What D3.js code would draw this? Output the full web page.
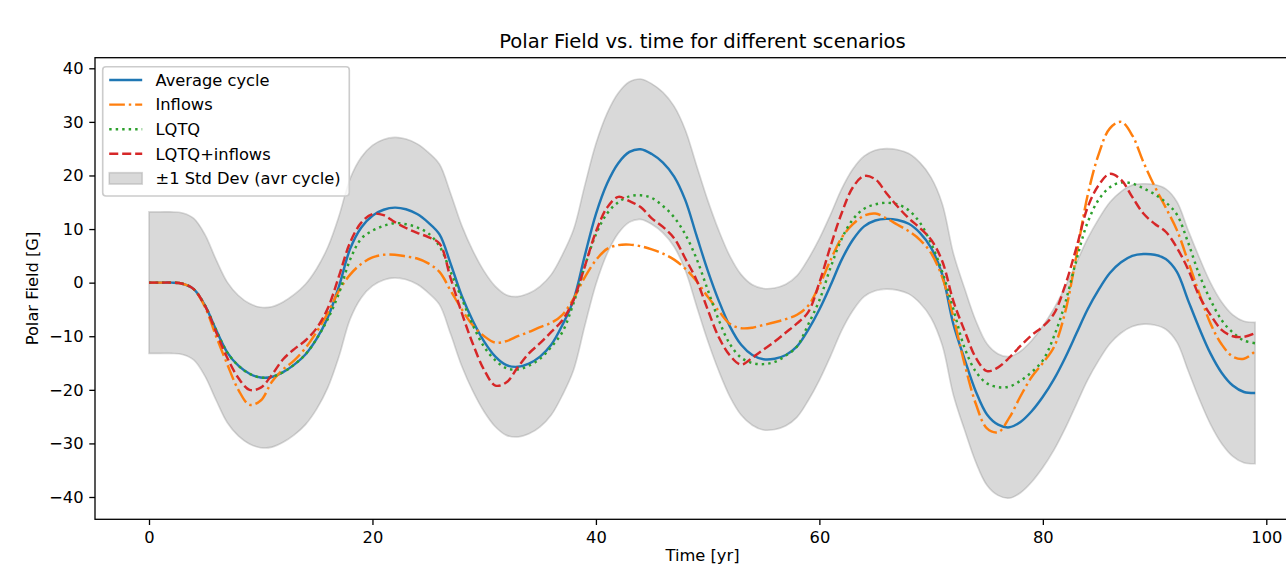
<!DOCTYPE html>
<html>
<head>
<meta charset="utf-8">
<script src="https://cdn.jsdelivr.net/npm/d3@7"></script>
<style>
  body { margin: 0; background: #fff; }
  svg { display: block; font-family: "DejaVu Sans", sans-serif; }
</style>
</head>
<body>
<div class="canvas"></div>
<script>
// values, one sample per year
const years = [0,1,2,3,4,5,6,7,8,9,10,11,12,13,14,15,16,17,18,19,20,21,22,23,24,25,26,27,28,29,
  30,31,32,33,34,35,36,37,38,39,40,41,42,43,44,45,46,47,48,49,50,51,52,53,54,55,56,57,58,59,
  60,61,62,63,64,65,66,67,68,69,70,71,72,73,74,75,76,77,78,79,80,81,82,83,84,85,86,87,88,89,
  90,91,92,93,94,95,96,97,98,99];

const avgCycle = [0,0,0,-0.2,-1.2,-4.2,-8.8,-13,-15.5,-17,-17.7,-17.6,-16.7,-15.3,-13.4,-10.5,-6.5,-0.7,6.3,10.3,
  12.5,13.6,14.0,13.7,12.8,11.2,9,3.5,-2.5,-7.2,-11,-13.8,-15.4,-15.7,-15.1,-13.8,-11.6,-7.9,-3.2,5,
  12.8,18.5,22.3,24.4,24.9,24,22.4,19.8,15.4,8.8,2.3,-3.4,-8.2,-11.6,-13.5,-14.3,-14.2,-13.5,-11.9,-8.8,
  -5,-0.5,4.3,8,10.5,11.6,11.9,11.7,11,9.3,6.5,1.5,-7.8,-14.3,-20.3,-24.6,-26.5,-27,-26,-24,
  -21.3,-18,-14,-9.5,-5,-1.3,1.8,3.8,5,5.35,5.2,4.4,2,-3.3,-8.5,-13.2,-16.8,-19.2,-20.4,-20.6];

const inflows = [0,0,0,-0.2,-1.2,-4.5,-10,-15.2,-20,-22.8,-22,-18.5,-16.2,-14.5,-12.2,-9.2,-5.7,-1.5,1.5,3.5,
  4.7,5.2,5.2,4.9,4.5,3.6,2,-1.5,-5,-8,-10,-11.2,-10.9,-10,-9.2,-8.3,-7.5,-6,-3,1,
  4.2,6.3,7,7.1,6.8,6.2,5.4,4.3,2.6,0.3,-2.6,-5.3,-7.7,-8.5,-8.4,-7.9,-7.4,-6.8,-6,-4.3,
  -0.5,4.2,8.4,10.9,12.5,12.9,12,10.8,9.6,8,5.5,1,-6.5,-15.2,-22.6,-27.2,-27.9,-25.2,-21.2,-17.6,
  -15,-12,-5.5,5,16.2,24,28.8,30,27.5,22.5,18,14,9.8,4,-2,-7.6,-11.5,-13.8,-14.2,-12.8];

const lqtq = [0,0,0,-0.2,-1.2,-4.2,-8.8,-13,-15.5,-17,-17.7,-17.6,-16.7,-15.3,-13.4,-10.5,-6.8,-2,4.3,8.2,
  9.7,10.6,11.1,10.9,10.3,9.2,6.8,2,-3,-8,-12,-14.5,-16,-16.2,-15.5,-14.2,-12,-9.2,-3.8,3,
  9,12.9,15,16.1,16.3,15.8,14.3,12.2,9,4.5,-1.3,-7,-11.5,-14,-15,-15.2,-14.8,-13.6,-11.9,-7.8,
  -3.3,2.8,8.2,11.8,13.8,14.6,14.9,14.6,13.5,11.2,7.3,2,-5,-12.2,-16.6,-18.8,-19.5,-19.4,-18.3,-16.7,
  -14.5,-10,-3.8,4.2,11.2,15.5,17.8,18.7,18.5,17.6,16.5,15,12.7,7.5,1.5,-3.2,-7,-9.3,-10.8,-11.3];

const lqtqInflows = [0,0,0,-0.2,-1.2,-4.3,-9.2,-14,-17.8,-20,-19.6,-17.2,-14.3,-12.4,-10.8,-8.5,-4.8,1.2,7.5,11.2,
  12.8,12.6,11.3,10.2,9.3,8.5,7.3,0.8,-5.7,-11.5,-16.3,-19.2,-18.6,-15.8,-13.2,-11.3,-9.2,-7,-3.2,3,
  9.5,14,16,15.2,14.1,12,10.4,8.3,4.5,0.5,-5,-10.2,-13.6,-15.3,-14,-12.5,-11,-9.3,-7.6,-5.5,
  0,6.8,13,17.8,19.9,19.3,16.7,14.2,12,10.2,8,4,-3.5,-9,-14,-16.5,-15.8,-14,-11.8,-9.8,
  -8.2,-5.8,-0.5,6.5,14,18.2,20.3,19.2,16,12.9,11,9.5,6.5,2.5,-2.5,-6,-8.8,-10,-10.1,-9.4];

// half width of the grey band around the average cycle
const avgStd = [13.2,13.2,13.2,13.2,13.2,13.2,13.1,13.1,13.1,13.1,13.1,13.1,13.1,13.1,13.1,13.1,13.1,13.1,13.1,13.1,
  13.1,13.1,13.1,13.1,13.1,13.1,13.1,13.1,13.1,13.1,13.1,13.1,13.1,13.1,13.1,13.1,13.1,13.1,13.1,13.1,
  13.1,13.1,13.1,13.1,13.1,13.1,13.1,13.1,13.1,13.1,13.1,13.1,13.1,13.1,13.1,13.2,13.2,13.2,13.2,13.2,
  13.2,13.2,13.2,13.2,13.1,13.1,13.1,13.1,13.1,13.1,13.1,13.2,13.2,13.2,13.2,13.2,13.2,13.2,13.2,13.2,
  13.2,13.2,13.2,13.2,13.2,13.2,13.2,13.2,13.2,13.1,13.1,13.1,13.1,13.1,13.2,13.2,13.2,13.2,13.2,13.2];

const xTicks = [0, 20, 40, 60, 80, 100];
const yTicks = [-40, -30, -20, -10, 0, 10, 20, 30, 40];
const seriesNames = ['Average cycle', 'Inflows', 'LQTQ', 'LQTQ+inflows'];
const bandName = '\u00b11 Std Dev (avr cycle)';

// figure geometry (matplotlib-like, ~118 dpi)
const W = 1286, H = 566;
const box = {left: 95, right: 1310, top: 57.7, bottom: 519.3};
const pt = 1.633;          // px per point
const fs = 16.3;           // 10pt text

const svg = d3.select('.canvas')
  .append('svg')
  .attr('width', W)
  .attr('height', H);

const x = d3.scaleLinear().domain([0, 100]).range([149, 1266.3]);
const y = d3.scaleLinear().domain([-40, 40]).range([497, 68.3]);

// series styles: tab10 colours, matplotlib dash patterns scaled by linewidth
const lw = 1.5 * pt;
const styles = [
  {color: '#1f77b4', dash: null},
  {color: '#ff7f0e', dash: [6.4, 1.6, 1, 1.6].map(d => d * lw)},
  {color: '#2ca02c', dash: [1, 1.65].map(d => d * lw)},
  {color: '#d62728', dash: [3.7, 1.6].map(d => d * lw)}
];
const seriesValues = [avgCycle, inflows, lqtq, lqtqInflows];

// std band
const band = d3.area()
  .x((d, i) => x(years[i]))
  .y0((d, i) => y(avgCycle[i] - avgStd[i]))
  .y1((d, i) => y(avgCycle[i] + avgStd[i]))
  .curve(d3.curveCatmullRom.alpha(0.5));

svg.append('path')
  .attr('d', band(years))
  .attr('fill', 'gray')
  .attr('fill-opacity', 0.3)
  .attr('stroke', 'gray')
  .attr('stroke-opacity', 0.3)
  .attr('stroke-width', pt);

// lines
const line = d3.line()
  .x((d, i) => x(years[i]))
  .y(d => y(d))
  .curve(d3.curveCatmullRom.alpha(0.5));

seriesValues.forEach((vals, k) => {
  svg.append('path')
    .attr('d', line(vals))
    .attr('fill', 'none')
    .attr('stroke', styles[k].color)
    .attr('stroke-width', lw)
    .attr('stroke-dasharray', styles[k].dash ? styles[k].dash.join(',') : null)
    .attr('stroke-linecap', 'butt');
});

// axes
const tickLen = 3.5 * pt;
const xAxis = d3.axisBottom(x).tickValues(xTicks).tickSize(tickLen).tickPadding(3.5 * pt + 1).tickSizeOuter(0);
const yAxis = d3.axisLeft(y).tickValues(yTicks).tickSize(tickLen).tickPadding(3.5 * pt).tickSizeOuter(0);

const xAxisGroup = svg.append('g').attr('transform', `translate(0, ${box.bottom})`).call(xAxis);
const yAxisGroup = svg.append('g').attr('transform', `translate(${box.left}, 0)`).call(yAxis);

[xAxisGroup, yAxisGroup].forEach(g => {
  g.select('.domain').remove();
  g.selectAll('line').attr('stroke', '#000').attr('stroke-width', 0.8 * pt);
  g.selectAll('text').attr('fill', '#000').style('font-size', fs + 'px').style('font-family', '"DejaVu Sans"');
});

// spines
svg.append('rect')
  .attr('x', box.left).attr('y', box.top)
  .attr('width', box.right - box.left).attr('height', box.bottom - box.top)
  .attr('fill', 'none').attr('stroke', '#000').attr('stroke-width', 0.8 * pt);

// titles
const cx = (box.left + box.right) / 2;
svg.append('text')
  .attr('x', cx).attr('y', 48)
  .attr('text-anchor', 'middle')
  .style('font-size', (12 * pt) + 'px')
  .text('Polar Field vs. time for different scenarios');

svg.append('text')
  .attr('x', cx).attr('y', 561)
  .attr('text-anchor', 'middle')
  .style('font-size', fs + 'px')
  .text('Time [yr]');

svg.append('text')
  .attr('transform', `translate(38, ${(box.top + box.bottom) / 2}) rotate(-90)`)
  .attr('text-anchor', 'middle')
  .style('font-size', fs + 'px')
  .text('Polar Field [G]');

// legend
const leg = svg.append('g');
leg.append('rect')
  .attr('x', 102.7).attr('y', 66.7)
  .attr('width', 246.6).attr('height', 129.3)
  .attr('rx', 3.3)
  .attr('fill', '#fff').attr('fill-opacity', 0.8)
  .attr('stroke', '#cccccc').attr('stroke-width', pt);

const rowY = [80, 104.6, 129.2, 153.8, 178.4];
seriesNames.forEach((name, k) => {
  leg.append('line')
    .attr('x1', 109.2).attr('x2', 142.2)
    .attr('y1', rowY[k]).attr('y2', rowY[k])
    .attr('stroke', styles[k].color)
    .attr('stroke-width', lw)
    .attr('stroke-dasharray', styles[k].dash ? styles[k].dash.join(',') : null);
  leg.append('text')
    .attr('x', 155.5).attr('y', rowY[k]).attr('dy', '0.36em')
    .style('font-size', fs + 'px')
    .text(name);
});
leg.append('rect')
  .attr('x', 109.2).attr('y', rowY[4] - 5.7)
  .attr('width', 33).attr('height', 11.4)
  .attr('fill', 'gray').attr('fill-opacity', 0.3)
  .attr('stroke', 'gray').attr('stroke-opacity', 0.3).attr('stroke-width', pt);
leg.append('text')
  .attr('x', 155.5).attr('y', rowY[4]).attr('dy', '0.36em')
  .style('font-size', fs + 'px')
  .text(bandName);
</script>
</body>
</html>
